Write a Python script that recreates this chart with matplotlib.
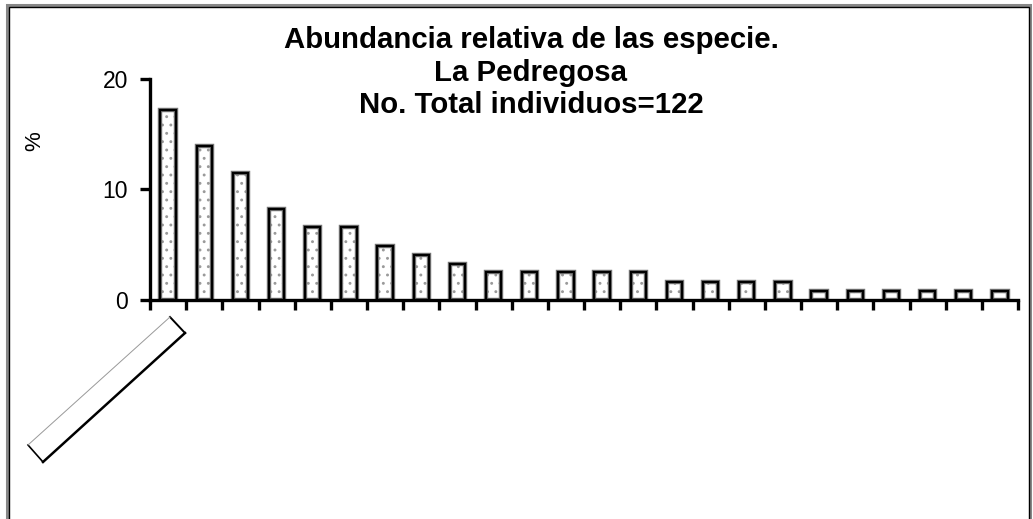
import matplotlib
matplotlib.use("Agg")
import matplotlib.pyplot as plt
from matplotlib.patches import Polygon, Rectangle
from matplotlib.lines import Line2D
import numpy as np

plt.rcParams['font.family'] = ['Liberation Sans', 'DejaVu Sans']
plt.rcParams['hatch.linewidth'] = 0.9

# data: relative abundance (%) of 24 species, sorted
values = [17.2, 13.9, 11.5, 8.2, 6.6, 6.6, 4.9, 4.1, 3.3,
          2.5, 2.5, 2.5, 2.5, 2.5,
          1.6, 1.6, 1.6, 1.6,
          0.8, 0.8, 0.8, 0.8, 0.8, 0.8]
categories = [""] * len(values)
yticks = [0, 10, 20]
title_lines = ["Abundancia relativa de las especie.",
               "La Pedregosa",
               "No. Total individuos=122"]
ylabel = "%"

W, H = 1033, 519
fig = plt.figure(figsize=(W / 100, H / 100), dpi=100)


def fx(px):
    return px / W


def fy(py):
    return 1 - py / H


# outer frame (double line)
fig.patches.append(Rectangle((fx(7), fy(560)), fx(1023), fy(5) - fy(560),
                             transform=fig.transFigure, fill=False, edgecolor='#888888', lw=2.2))
fig.patches.append(Rectangle((fx(8.5), fy(560)), fx(1020), fy(6.5) - fy(560),
                             transform=fig.transFigure, fill=False, edgecolor='black', lw=1.0))

ax = fig.add_axes([fx(150), fy(300), fx(1018) - fx(150), fy(79) - fy(300)])
x = np.arange(len(values))
bw = 0.42
ax.bar(x, values, width=bw, color='white', edgecolor='#9a9a9a', hatch='..', linewidth=0, zorder=2)
ax.bar(x, values, width=bw, fill=False, edgecolor='#777777', linewidth=3.2, zorder=3)
ax.bar(x, values, width=bw, fill=False, edgecolor='black', linewidth=1.6, zorder=4)

ax.set_xlim(-0.5, len(values) - 0.5)
ax.set_ylim(0, 20)
ax.set_yticks(yticks)
ax.set_yticklabels([str(t) for t in yticks], fontsize=16.5)
ax.set_xticks(np.arange(-0.5, len(values), 1.0))
ax.set_xticklabels([""] * (len(values) + 1))
for s in ['top', 'right']:
    ax.spines[s].set_visible(False)
for s in ['left', 'bottom']:
    ax.spines[s].set_linewidth(2.4)
    ax.spines[s].set_zorder(5)
ax.tick_params(axis='y', direction='out', length=7, width=2.4, pad=9)
ax.tick_params(axis='x', direction='out', length=7, width=2.4)
ax.set_facecolor('none')

fig.text(fx(35), fy(141), ylabel, rotation=90, fontsize=16, ha='center', va='center')

baselines = [48, 81, 113]
for line, b in zip(title_lines, baselines):
    fig.text(fx(531), fy(b), line, fontsize=21.2, fontweight='bold',
             ha='center', va='baseline')

# empty rotated category label box
pts = [(28, 445), (43, 462), (185, 333), (170, 317)]
fpts = [(fx(px), fy(py)) for px, py in pts]
fig.patches.append(Polygon(fpts, closed=True, transform=fig.transFigure,
                           facecolor='white', edgecolor='none'))
edges = [((0, 1), 'black', 1.2), ((1, 2), 'black', 1.8), ((2, 3), 'black', 1.4), ((3, 0), '#999999', 0.7)]
for (i, j), col, lw in edges:
    fig.lines.append(Line2D([fpts[i][0], fpts[j][0]], [fpts[i][1], fpts[j][1]],
                            transform=fig.transFigure, color=col, lw=lw))

fig.savefig("out.png", dpi=100)
